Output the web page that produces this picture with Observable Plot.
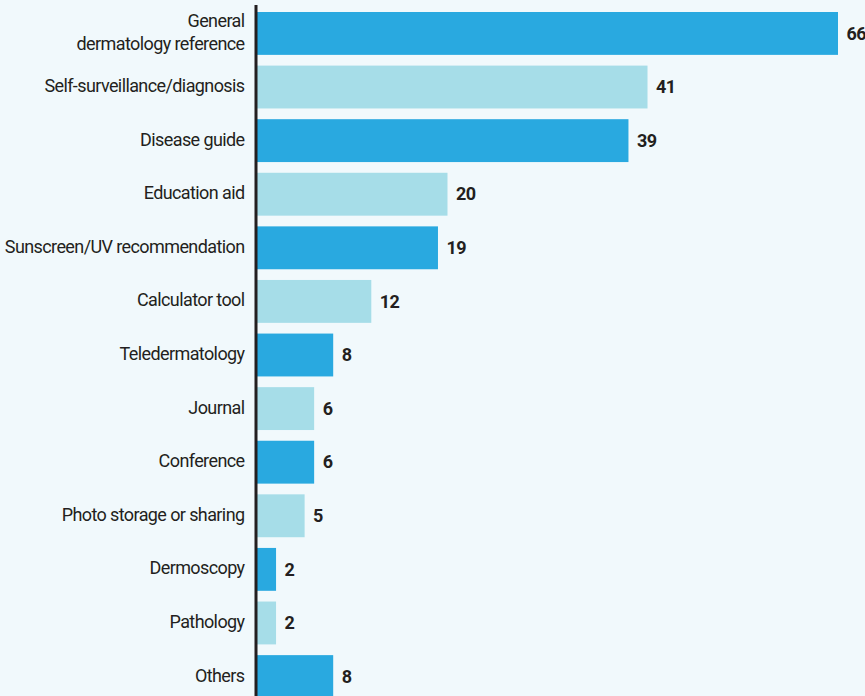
<!DOCTYPE html>
<html>
<head>
<meta charset="utf-8">
<script src="https://cdn.jsdelivr.net/npm/d3@7"></script>
<script src="https://cdn.jsdelivr.net/npm/@observablehq/plot@0.6"></script>
<style>
  html, body { margin: 0; padding: 0; background: #f1f9fc; }
  #chart svg { display: block; }
  #chart svg text { letter-spacing: -0.6px; }
</style>
</head>
<body>
<div id="chart"></div>
<script>
const categories = [
  "General\ndermatology reference",
  "Self-surveillance/diagnosis",
  "Disease guide",
  "Education aid",
  "Sunscreen/UV recommendation",
  "Calculator tool",
  "Teledermatology",
  "Journal",
  "Conference",
  "Photo storage or sharing",
  "Dermoscopy",
  "Pathology",
  "Others"
];
const values = [66, 41, 39, 20, 19, 12, 8, 6, 6, 5, 2, 2, 8];
const shades = ["dark", "light", "dark", "light", "dark", "light", "dark", "light", "dark", "light", "dark", "light", "dark"];

const data = categories.map((c, i) => ({category: c, value: values[i], shade: shades[i]}));

const font = "Roboto, 'DejaVu Sans Condensed', sans-serif";

const chart = Plot.plot({
  width: 865,
  height: 696,
  marginLeft: 257,
  marginRight: 27,
  marginTop: 12,
  marginBottom: -2,
  style: {background: "#f1f9fc", fontFamily: font},
  x: {domain: [0, 61], clamp: true, axis: null},
  y: {domain: categories, paddingInner: 0.2, paddingOuter: 0, round: false, label: null},
  color: {domain: ["dark", "light"], range: ["#29a9e0", "#a6dde8"]},
  marks: [
    Plot.barX(data, {y: "category", x: "value", fill: "shade"}),
    Plot.axisY({tickSize: 0, tickPadding: 13, dy: -3, fontSize: 18, lineHeight: 1.3, fill: "#231f20", label: null, fontFamily: font}),
    Plot.ruleX([0], {stroke: "#231f20", strokeWidth: 3, dx: -1.5, insetTop: -7, insetBottom: -2}),
    Plot.text(data, {y: "category", x: "value", text: d => String(d.value), dx: 8, textAnchor: "start", fontSize: 18, fontWeight: "bold", fill: "#231f20", fontFamily: font})
  ]
});
document.getElementById("chart").appendChild(chart);
</script>
</body>
</html>
